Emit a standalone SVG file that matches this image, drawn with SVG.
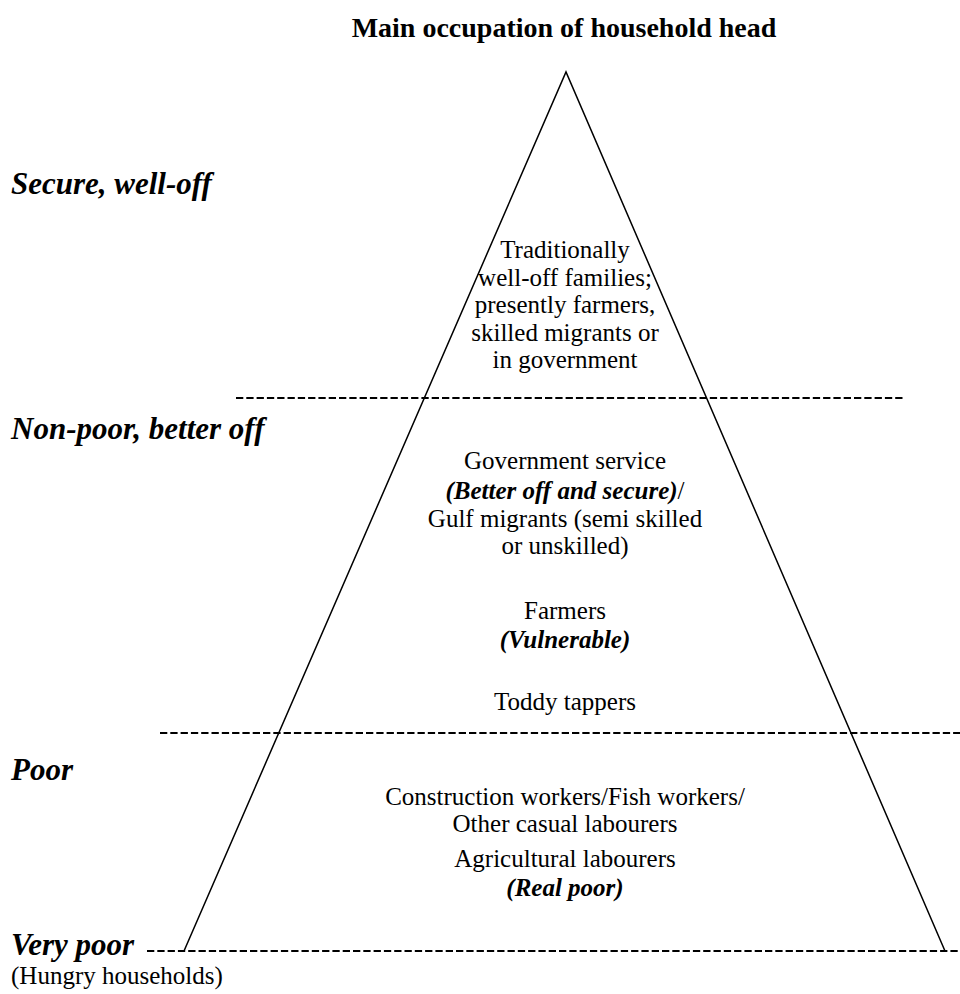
<svg xmlns="http://www.w3.org/2000/svg" width="960" height="994" viewBox="0 0 960 994">
<style>
text{font-family:"Liberation Serif","Times New Roman",serif;fill:#000}
.t{font-size:25px;text-anchor:middle}
.bi{font-weight:bold;font-style:italic}
.lab{font-size:31px;font-weight:bold;font-style:italic}
.ttl{font-size:28px;font-weight:bold;text-anchor:middle}
.dash{stroke:#000;stroke-width:2;stroke-dasharray:7.3 3;fill:none}
</style>
<rect width="960" height="994" fill="#fff"/>
<text id="title" class="ttl" x="564" y="37">Main occupation of household head</text>
<g id="connectors">
<polyline id="pyramid" points="184,951 566,72 945,951" fill="none" stroke="#000" stroke-width="1.5"/>
<line class="dash" x1="236" y1="398" x2="903" y2="398"/>
<line class="dash" x1="160" y1="733" x2="960" y2="733"/>
<line class="dash" x1="147" y1="951" x2="960" y2="951"/>
</g>
<g id="labels">
<text class="lab" x="11" y="194">Secure, well-off</text>
<text class="lab" x="11" y="439">Non-poor, better off</text>
<text class="lab" x="11" y="780">Poor</text>
<text class="lab" x="11" y="955">Very poor</text>
<text x="11" y="984" style="font-size:25px">(Hungry households)</text>
</g>
<g id="tier1">
<text class="t" x="565" y="258">Traditionally</text>
<text class="t" x="565" y="285.5">well-off families;</text>
<text class="t" x="565" y="313">presently farmers,</text>
<text class="t" x="565" y="340.5">skilled migrants or</text>
<text class="t" x="565" y="368">in government</text>
</g>
<g id="tier2">
<text class="t" x="565" y="469">Government service</text>
<text class="t" x="565" y="499"><tspan class="bi">(Better off and secure)</tspan>/</text>
<text class="t" x="565" y="527">Gulf migrants (semi skilled</text>
<text class="t" x="565" y="554">or unskilled)</text>
<text class="t" x="565" y="619">Farmers</text>
<text class="t bi" x="565" y="648">(Vulnerable)</text>
<text class="t" x="565" y="710">Toddy tappers</text>
</g>
<g id="tier3">
<text class="t" x="565" y="805">Construction workers/Fish workers/</text>
<text class="t" x="565" y="832">Other casual labourers</text>
<text class="t" x="565" y="867">Agricultural labourers</text>
<text class="t bi" x="565" y="896">(Real poor)</text>
</g>
</svg>
